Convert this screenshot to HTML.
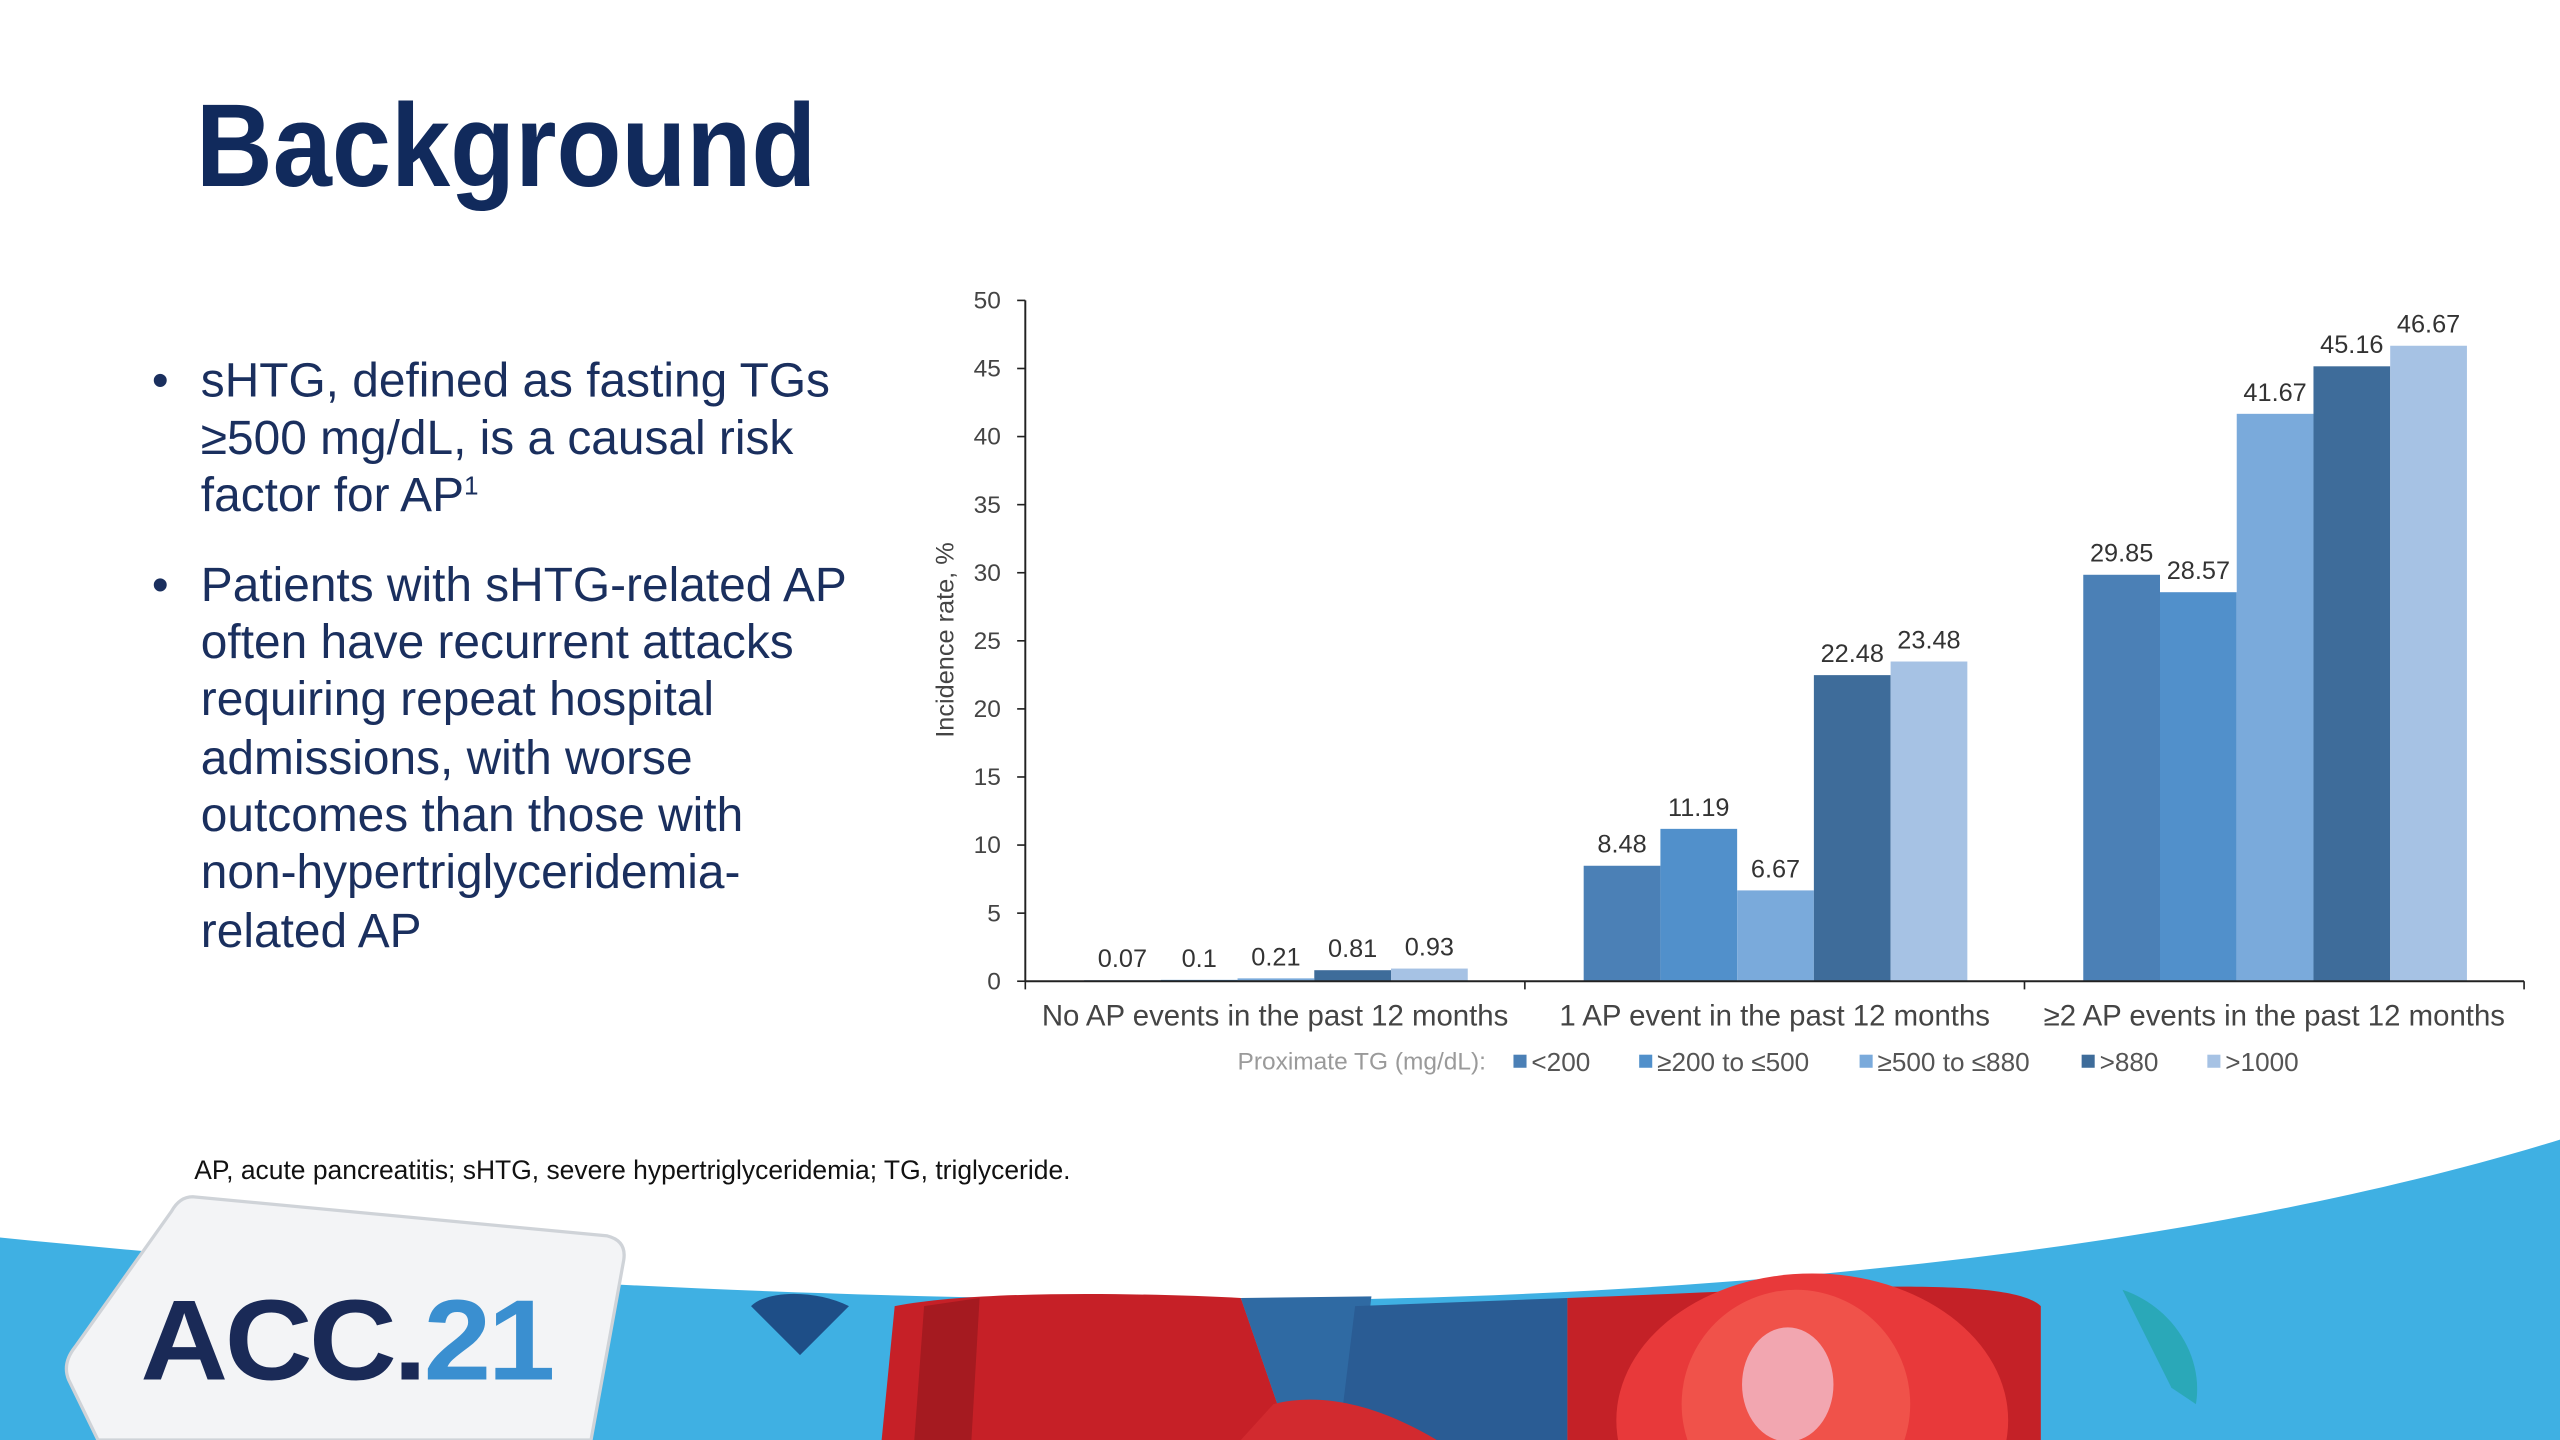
<!DOCTYPE html>
<html><head><meta charset="utf-8"><style>
html,body{margin:0;padding:0;background:#fff;width:2560px;height:1440px;overflow:hidden;}
svg{display:block;font-family:"Liberation Sans",Arial,sans-serif;}
</style></head><body>
<svg id="slide" width="2560" height="1440" viewBox="0 0 1568 882" xmlns="http://www.w3.org/2000/svg">
<rect width="1568" height="882" fill="#fff"/>
<g>
<rect x="0" y="690" width="1568" height="192" fill="#3fb0e3"/>
<path d="M0,690 L0,758 C300,788 560,798 820,796 C1150,790 1400,750 1568,698 L1568,690 Z" fill="#fff"/>
<g>
<path d="M540,882 L548,800 C600,790 700,792 760,795 L790,882 Z" fill="#c62027"/>
<path d="M560,882 L566,800 L600,795 L595,882 Z" fill="#a51a20"/>
<path d="M760,795 L840,794 L830,882 L790,882 Z" fill="#2f6aa3"/>
<path d="M830,800 L960,795 L960,882 L820,882 Z" fill="#2a5c94"/>
<path d="M960,795 C1100,790 1230,780 1250,800 L1250,882 L960,882 Z" fill="#c42127"/>
<ellipse cx="1110" cy="870" rx="120" ry="90" fill="#e8393a"/>
<ellipse cx="1100" cy="860" rx="70" ry="70" fill="#f0524a"/>
<ellipse cx="1095" cy="848" rx="28" ry="35" fill="#f2a6b0"/>
<path d="M780,860 C820,850 860,870 880,882 L760,882 Z" fill="#d22a2f"/>
<path d="M460,800 C470,790 500,790 520,800 L490,830 Z" fill="#1e4e87"/>
<path d="M1300,790 C1330,800 1350,830 1345,860 L1330,850 Z" fill="#2aa8b8"/>
</g>
<g>
<path d="M118,733 L372,757 Q384,760 382,772 L362,882 L60,882 L42,845 Q38,835 46,825 L105,742 Q110,733 118,733 Z" fill="#f3f4f6" stroke="#cfd3d8" stroke-width="2"/>
<text x="86" y="845" font-size="70" font-weight="bold" fill="#1a2a57" letter-spacing="-2" textLength="252" lengthAdjust="spacingAndGlyphs">ACC.<tspan fill="#3a8fd0">21</tspan></text>
</g>
</g>
<text x="120" y="114" font-size="72" font-weight="bold" fill="#112a5c" textLength="380" lengthAdjust="spacingAndGlyphs">Background</text>
<g font-size="29.3" fill="#1a2f5e">
<text x="93" y="243">•</text>
<text x="123" y="243">sHTG, defined as fasting TGs</text>
<text x="123" y="278">≥500 mg/dL, is a causal risk</text>
<text x="123" y="313">factor for AP<tspan font-size="16" dy="-10">1</tspan></text>
<text x="93" y="368">•</text>
<text x="123" y="368">Patients with sHTG-related AP</text>
<text x="123" y="403">often have recurrent attacks</text>
<text x="123" y="438">requiring repeat hospital</text>
<text x="123" y="474">admissions, with worse</text>
<text x="123" y="509">outcomes than those with</text>
<text x="123" y="544">non-hypertriglyceridemia-</text>
<text x="123" y="580">related AP</text>
</g>
<text x="119" y="722" font-size="16.2" fill="#111">AP, acute pancreatitis; sHTG, severe hypertriglyceridemia; TG, triglyceride.</text>
<g id="chart"></g>
</svg>
<script>
const categories = ["No AP events in the past 12 months","1 AP event in the past 12 months","≥2 AP events in the past 12 months"];
const seriesNames = ["<200","≥200 to ≤500","≥500 to ≤880",">880",">1000"];
const seriesLt200 = [0.07, 8.48, 29.85];
const series200to500 = [0.1, 11.19, 28.57];
const series500to880 = [0.21, 6.67, 41.67];
const seriesGt880 = [0.81, 22.48, 45.16];
const seriesGt1000 = [0.93, 23.48, 46.67];
const yTicks = [0,5,10,15,20,25,30,35,40,45,50];
const valueLabels = [["0.07","8.48","29.85"],["0.1","11.19","28.57"],["0.21","6.67","41.67"],["0.81","22.48","45.16"],["0.93","23.48","46.67"]];

const allSeries = [seriesLt200, series200to500, series500to880, seriesGt880, seriesGt1000];
const colors = ["#4b80b6","#5190cb","#7aaadb","#3e6c9a","#a6c2e4"];
const NS = "http://www.w3.org/2000/svg";
const g = document.getElementById("chart");
const X0 = 628, Y0 = 601, YTOP = 184, XEND = 1546, GW = 306, PAD = 36, BW = 47;
function y(v){ return Y0 - (v/50)*(Y0-YTOP); }
function xBar(ci, si){ return X0 + ci*GW + PAD + si*BW; }
function mk(tag, attrs, text){ const e=document.createElementNS(NS,tag); for(const k in attrs) e.setAttribute(k,attrs[k]); if(text!==undefined) e.textContent=text; g.appendChild(e); return e; }

allSeries.forEach((s, si) => {
  s.forEach((v, ci) => {
    const r = mk("rect",{x:xBar(ci,si),y:y(v),width:BW,height:Y0-y(v),fill:colors[si]});
    
    
    const t = mk("text",{x:xBar(ci,si)+BW/2,y:y(v)-8,"font-size":15.5,fill:"#333","text-anchor":"middle"}, valueLabels[si][ci]);
    
    
  });
});
const ya = mk("line",{x1:X0,y1:YTOP,x2:X0,y2:Y0,stroke:"#222","stroke-width":1.2});


const xa = mk("line",{x1:X0,y1:Y0,x2:XEND,y2:Y0,stroke:"#222","stroke-width":1.2});


yTicks.forEach(v => {
  mk("line",{x1:X0-5,y1:y(v),x2:X0,y2:y(v),stroke:"#222","stroke-width":1});
  const t = mk("text",{x:613,y:y(v)+5,"font-size":15,fill:"#444","text-anchor":"end"}, String(v));
  
  
});
for(let i=0;i<=categories.length;i++){
  mk("line",{x1:X0+i*GW,y1:Y0,x2:X0+i*GW,y2:Y0+5,stroke:"#222","stroke-width":1});
}
categories.forEach((c, ci) => {
  const t = mk("text",{x:X0+ci*GW+GW/2,y:628,"font-size":18,fill:"#444","text-anchor":"middle"}, c);
  
  
});
const yt = mk("text",{x:0,y:0,"font-size":15.5,fill:"#444","text-anchor":"middle",transform:"translate(584,392) rotate(-90)"}, "Incidence rate, %");


const lt = mk("text",{x:758,y:655,"font-size":15,fill:"#9a9a9a"}, "Proximate TG (mg/dL):");


const legX = [927, 1004, 1139, 1275, 1352];
seriesNames.forEach((n, si) => {
  const sq = mk("rect",{x:legX[si],y:646,width:8,height:8,fill:colors[si]});
  
  
  const t = mk("text",{x:legX[si]+11,y:656,"font-size":16,fill:"#555"}, n);
  
  
});
</script>
</body></html>
